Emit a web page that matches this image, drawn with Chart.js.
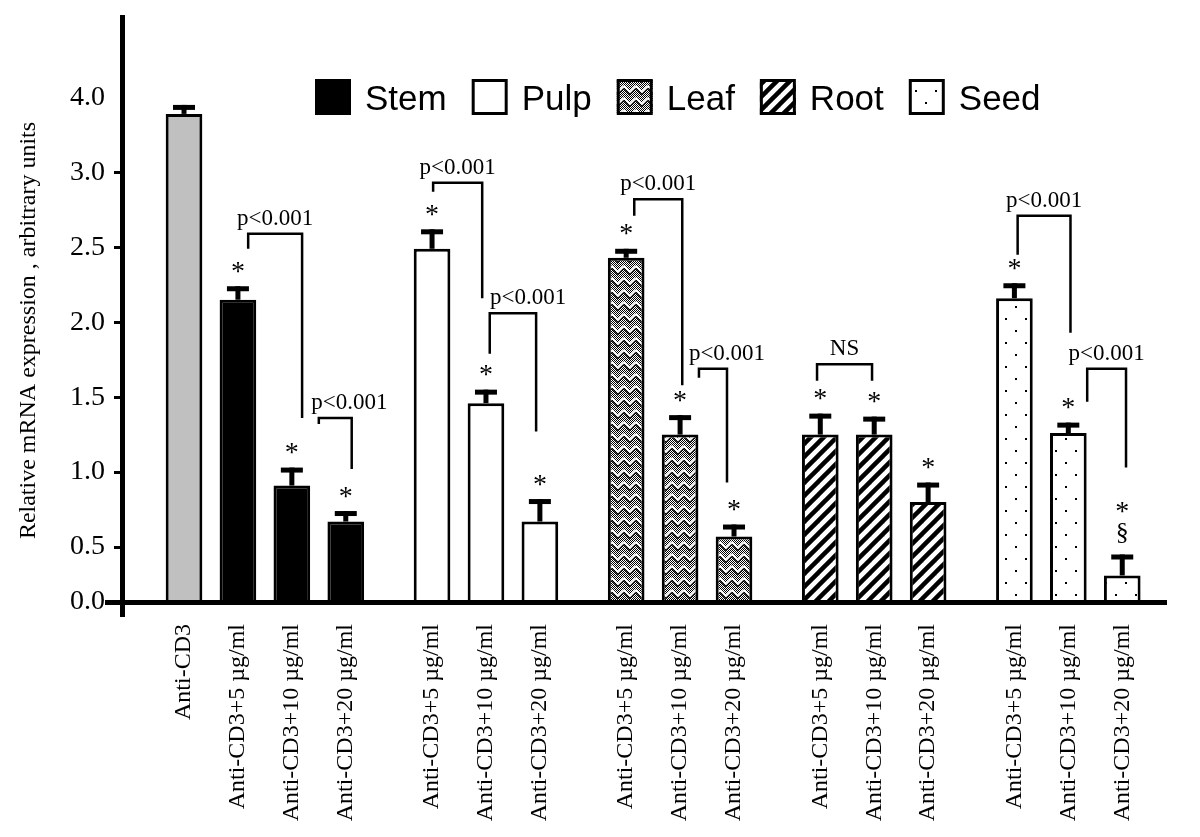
<!DOCTYPE html>
<html>
<head>
<meta charset="utf-8">
<script src="https://cdn.jsdelivr.net/npm/chart.js@4.4.1/dist/chart.umd.min.js"></script>
<style>
  html, body { margin: 0; padding: 0; background: #fff; }
  #wrap { width: 1200px; height: 837px; position: relative; }
</style>
</head>
<body>
<div id="wrap"><canvas id="chart"></canvas></div>
<script>
// values (linear units, 0.5 between the regular ticks)
const controlLabel = "Anti-CD3";
const doseLabels = ["Anti-CD3+5 µg/ml", "Anti-CD3+10 µg/ml", "Anti-CD3+20 µg/ml"];
const tissues = ["Stem", "Pulp", "Leaf", "Root", "Seed"];

const controlValue = [3.39];
const controlError = [0.06];

const stemValues = [2.15, 0.91, 0.67];
const pulpValues = [2.49, 1.46, 0.67];
const leafValues = [2.43, 1.25, 0.57];
const rootValues = [1.25, 1.25, 0.80];
const seedValues = [2.16, 1.26, 0.31];

const stemErrors = [0.09, 0.12, 0.07];
const pulpErrors = [0.13, 0.09, 0.15];
const leafErrors = [0.06, 0.13, 0.08];
const rootErrors = [0.14, 0.12, 0.13];
const seedErrors = [0.10, 0.07, 0.14];

const stemMarks = ["*", "*", "*"];
const pulpMarks = ["*", "*", "*"];
const leafMarks = ["*", "*", "*"];
const rootMarks = ["*", "*", "*"];
const seedMarks = ["*", "*", "*§"];

// the printed axis is irregular: "0.0" sits on the baseline and "4.0" where 3.5 would be
const yTickValues = [0.133, 0.5, 1.0, 1.5, 2.0, 2.5, 3.0, 3.5];
const yTickLabels = ["0.0", "0.5", "1.0", "1.5", "2.0", "2.5", "3.0", "4.0"];

// comparison brackets between doses of one tissue
const brackets = [
  { tissue: 0, from: 0, to: 1, fromOff: 0.19, toOff: 0.19, top: 2.59, fromEnd: 2.49, toEnd: 1.36, text: "p<0.001", textOff: 0 },
  { tissue: 0, from: 1, to: 2, fromOff: 0.50, toOff: 0.11, top: 1.36, fromEnd: 1.32, toEnd: 1.02, text: "p<0.001", textOff: 0.26 },
  { tissue: 1, from: 0, to: 1, fromOff: 0.02, toOff: -0.07, top: 2.93, fromEnd: 2.87, toEnd: 2.16, text: "p<0.001", textOff: 0 },
  { tissue: 1, from: 1, to: 2, fromOff: 0.07, toOff: -0.07, top: 2.06, fromEnd: 1.79, toEnd: 1.27, text: "p<0.001", textOff: 0.28 },
  { tissue: 2, from: 0, to: 1, fromOff: 0.15, toOff: 0.04, top: 2.82, fromEnd: 2.71, toEnd: 1.58, text: "p<0.001", textOff: 0 },
  { tissue: 2, from: 1, to: 2, fromOff: 0.35, toOff: -0.13, top: 1.69, fromEnd: 1.63, toEnd: 0.93, text: "p<0.001", textOff: 0.26 },
  { tissue: 3, from: 0, to: 1, fromOff: -0.06, toOff: -0.04, top: 1.72, fromEnd: 1.61, toEnd: 1.61, text: "NS", textOff: 0 },
  { tissue: 4, from: 0, to: 1, fromOff: 0.06, toOff: 0.04, top: 2.71, fromEnd: 2.45, toEnd: 1.93, text: "p<0.001", textOff: 0 },
  { tissue: 4, from: 1, to: 2, fromOff: 0.35, toOff: 0.07, top: 1.69, fromEnd: 1.47, toEnd: 1.03, text: "p<0.001", textOff: 0 }
];

const tissueValues = [stemValues, pulpValues, leafValues, rootValues, seedValues];
const tissueErrors = [stemErrors, pulpErrors, leafErrors, rootErrors, seedErrors];
const tissueMarks = [stemMarks, pulpMarks, leafMarks, rootMarks, seedMarks];

const Y_MIN = yTickValues[0];
const GROUP_GAP = 0.6;
const xPos = (t, d) => 1 + t * (3 + GROUP_GAP) + d;

const serif = "'Liberation Serif', 'Times New Roman', serif";
const sans = "'Liberation Sans', Arial, sans-serif";

// bar fills
function tile(w, h, draw) {
  const c = document.createElement("canvas");
  c.width = w; c.height = h;
  const g = c.getContext("2d");
  g.fillStyle = "#fff";
  g.fillRect(0, 0, w, h);
  draw(g);
  return g.createPattern(c, "repeat");
}
const fills = [
  "#000",
  "#fff",
  tile(12, 12, g => {
    g.fillStyle = "#000";
    for (let y = 0; y < 12; y++)
      for (let x = 0; x < 12; x++)
        if ((x + y) % 2 === 0) g.fillRect(x, y, 1, 1);
    g.lineWidth = 2;
    g.strokeStyle = "#fff";
    g.beginPath(); g.moveTo(0, 2); g.lineTo(6, 8); g.lineTo(12, 2); g.stroke();
    g.lineWidth = 1.2;
    g.strokeStyle = "#000";
    g.beginPath(); g.moveTo(0, 4.5); g.lineTo(6, 10.5); g.lineTo(12, 4.5); g.stroke();
  }),
  tile(13, 13, g => {
    g.strokeStyle = "#000";
    g.lineWidth = 4.5;
    for (const o of [-13, 0, 13]) {
      g.beginPath(); g.moveTo(o - 2, 15); g.lineTo(o + 15, -2); g.stroke();
    }
  }),
  tile(20, 24, g => {
    g.fillStyle = "#000";
    g.fillRect(5, 6, 2, 2);
    g.fillRect(15, 18, 2, 2);
  })
];

const xTicks = [0];
const xTickLabels = [controlLabel];
tissues.forEach((_, t) => doseLabels.forEach((lab, d) => { xTicks.push(xPos(t, d)); xTickLabels.push(lab); }));

const datasets = [{
  label: controlLabel,
  data: controlValue.map(v => ({ x: 0, y: v })),
  errors: controlError,
  marks: [""],
  backgroundColor: "#c0c0c0"
}].concat(tissues.map((name, t) => ({
  label: name,
  data: tissueValues[t].map((v, d) => ({ x: xPos(t, d), y: v })),
  errors: tissueErrors[t],
  marks: tissueMarks[t],
  backgroundColor: fills[t]
})));
datasets.forEach(ds => {
  ds.borderColor = "#000";
  ds.borderWidth = 3;
  ds.base = Y_MIN;
  ds.grouped = false;
  ds.barPercentage = 0.68;
  ds.categoryPercentage = 1;
});

function centeredText(ctx, str, x, cy) {
  const m = ctx.measureText(str);
  ctx.fillText(str, x, cy + (m.actualBoundingBoxAscent - m.actualBoundingBoxDescent) / 2);
}

const decor = {
  id: "decor",
  afterDatasetsDraw(chart) {
    const { ctx, scales: { x, y } } = chart;
    ctx.save();
    ctx.fillStyle = "#000";
    ctx.textAlign = "center";
    chart.data.datasets.forEach((ds, di) => {
      const meta = chart.getDatasetMeta(di);
      meta.data.forEach((bar, i) => {
        const capY = y.getPixelForValue(ds.data[i].y + ds.errors[i]);
        ctx.fillRect(bar.x - 2.5, capY, 5, bar.y - capY);
        ctx.fillRect(bar.x - 11, capY, 22, 5);
        const marks = ds.marks[i];
        if (marks === "*") {
          ctx.font = "28px " + serif;
          centeredText(ctx, "*", bar.x, capY - 19);
        } else if (marks === "*§") {
          ctx.font = "26px " + serif;
          centeredText(ctx, "§", bar.x, capY - 21);
          ctx.font = "28px " + serif;
          centeredText(ctx, "*", bar.x, capY - 47);
        }
      });
    });

    ctx.lineWidth = 2.5;
    ctx.strokeStyle = "#000";
    ctx.font = "23px " + serif;
    ctx.textBaseline = "alphabetic";
    brackets.forEach(b => {
      const xa = x.getPixelForValue(xPos(b.tissue, b.from) + b.fromOff);
      const xb = x.getPixelForValue(xPos(b.tissue, b.to) + b.toOff);
      const yt = y.getPixelForValue(b.top);
      ctx.beginPath();
      ctx.moveTo(xa, y.getPixelForValue(b.fromEnd));
      ctx.lineTo(xa, yt);
      ctx.lineTo(xb, yt);
      ctx.lineTo(xb, y.getPixelForValue(b.toEnd));
      ctx.stroke();
      const mid = (x.getPixelForValue(xPos(b.tissue, b.from) + b.fromOff + b.textOff) +
                   x.getPixelForValue(xPos(b.tissue, b.to) + b.toOff + b.textOff)) / 2;
      ctx.fillText(b.text, mid, yt - 9);
    });
    ctx.restore();
  },
  afterDraw(chart) {
    const { ctx, chartArea: a } = chart;
    ctx.save();
    ctx.fillStyle = "#000";
    // axes, crossing at the corner
    ctx.fillRect(a.left - 2, a.top, 5, a.bottom - a.top + 15);
    ctx.fillRect(a.left - 17, a.bottom - 2, a.right - a.left + 17, 5);

    // y title
    ctx.save();
    ctx.translate(29, (a.top + a.bottom) / 2 + 22);
    ctx.rotate(-Math.PI / 2);
    ctx.font = "24px " + serif;
    ctx.textAlign = "center";
    ctx.textBaseline = "middle";
    ctx.fillText("Relative mRNA expression , arbitrary units", 0, 0);
    ctx.restore();

    // legend
    ctx.font = "35px " + sans;
    ctx.textBaseline = "alphabetic";
    ctx.textAlign = "left";
    let lx = 315;
    tissues.forEach((name, t) => {
      ctx.fillStyle = fills[t];
      ctx.fillRect(lx, 79, 36, 36);
      ctx.lineWidth = 3;
      ctx.strokeStyle = "#000";
      ctx.strokeRect(lx + 1.5, 80.5, 33, 33);
      ctx.fillStyle = "#000";
      ctx.fillText(name, lx + 50, 110);
      lx += 50 + ctx.measureText(name).width + 25;
    });
    ctx.restore();
  }
};

new Chart(document.getElementById("chart"), {
  type: "bar",
  data: { datasets },
  options: {
    responsive: true,
    maintainAspectRatio: false,
    animation: false,
    layout: { padding: { top: 15, right: 33, left: 0, bottom: 0 } },
    plugins: { legend: { display: false }, tooltip: { enabled: false } },
    scales: {
      x: {
        type: "linear",
        offset: false,
        min: -1.15,
        max: xPos(tissues.length - 1, 2) + 0.83,
        grid: { display: false, offset: false },
        border: { display: false },
        afterBuildTicks: s => { s.ticks = xTicks.map(v => ({ value: v })); },
        afterFit: s => { s.height = 235; s.paddingLeft = 0; s.paddingRight = 0; },
        ticks: {
          autoSkip: false,
          minRotation: 90,
          maxRotation: 90,
          padding: 14,
          color: "#000",
          font: { family: serif, size: 24 },
          callback: (v, i) => xTickLabels[i]
        }
      },
      y: {
        min: Y_MIN,
        max: 4.05,
        border: { display: false },
        grid: {
          drawOnChartArea: false,
          tickLength: 8,
          tickWidth: 3,
          tickColor: c => (c.index === 0 || c.index === yTickValues.length - 1) ? "rgba(0,0,0,0)" : "#000"
        },
        afterBuildTicks: s => { s.ticks = yTickValues.map(v => ({ value: v })); },
        afterFit: s => { s.width = 122; s.paddingTop = 0; s.paddingBottom = 0; },
        ticks: {
          padding: 9,
          color: "#000",
          font: { family: serif, size: 28 },
          callback: (v, i) => yTickLabels[i]
        }
      }
    }
  },
  plugins: [decor]
});
</script>
</body>
</html>
